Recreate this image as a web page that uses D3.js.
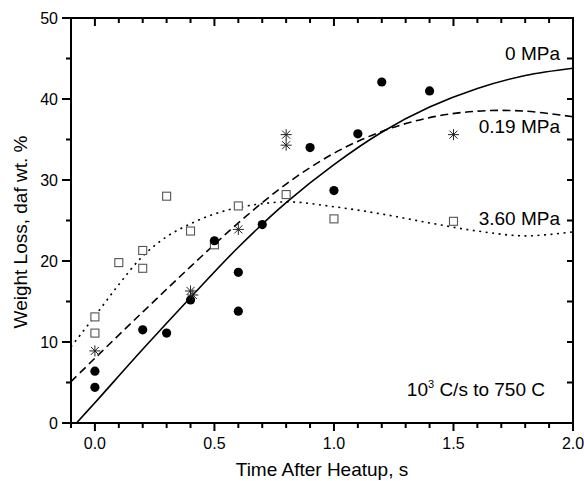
<!DOCTYPE html>
<html>
<head>
<meta charset="utf-8">
<script src="https://cdn.jsdelivr.net/npm/d3@7"></script>
<style>
  body { margin: 0; background: #fff; }
  text { font-family: "Liberation Sans", Arial, Helvetica, sans-serif; fill: #000; }
</style>
</head>
<body>
<svg id="chart"></svg>
<script>
var circleT = [0.0, 0.0, 0.2, 0.3, 0.4, 0.5, 0.6, 0.6, 0.7, 0.9, 1.0, 1.1, 1.2, 1.4]
var circleY = [4.4, 6.4, 11.5, 11.1, 15.2, 22.5, 18.6, 13.8, 24.5, 34.0, 28.7, 35.7, 42.1, 41.0]

var starT = [0.0, 0.4, 0.41, 0.6, 0.8, 0.8, 1.5]
var starY = [8.9, 16.3, 15.8, 23.9, 35.6, 34.3, 35.6]

var squareT = [0.0, 0.0, 0.1, 0.2, 0.2, 0.3, 0.4, 0.5, 0.6, 0.8, 1.0, 1.5]
var squareY = [13.1, 11.1, 19.8, 21.3, 19.1, 28.0, 23.7, 22.0, 26.8, 28.2, 25.2, 24.9]

// model curves
var curve0T = [-0.077, 0.0, 0.2, 0.4, 0.6, 0.8, 1.0, 1.2, 1.4, 1.6, 1.8, 2.0]
var curve0Y = [0, 2.5, 9.1, 15.5, 21.7, 27.2, 31.9, 35.9, 39.0, 41.3, 42.9, 43.8]

var curve019T = [-0.1, 0.0, 0.2, 0.4, 0.6, 0.8, 1.0, 1.2, 1.4, 1.6, 1.8, 2.0]
var curve019Y = [5.1, 8.0, 13.7, 19.3, 24.7, 29.5, 33.3, 36.0, 37.7, 38.5, 38.5, 37.8]

var curve360T = [-0.1, 0.0, 0.1, 0.2, 0.3, 0.4, 0.5, 0.6, 0.8, 1.0, 1.2, 1.4, 1.6, 1.8, 2.0]
var curve360Y = [9.4, 13.2, 17.1, 20.6, 23.0, 24.6, 25.8, 26.6, 27.3, 26.7, 25.8, 24.7, 23.7, 23.1, 23.6]

var xTicks = [0.0, 0.5, 1.0, 1.5, 2.0]
var yTicks = [0, 10, 20, 30, 40, 50]

var dimensions = {
    width: 584,
    height: 481,
    margin: { top: 18, bottom: 58, right: 11, left: 71 }
}

var svg = d3.select("#chart")
    .attr("width", dimensions.width)
    .attr("height", dimensions.height)

var x0 = dimensions.margin.left, x1 = dimensions.width - dimensions.margin.right
var y0 = dimensions.height - dimensions.margin.bottom, y1 = dimensions.margin.top

var xScale = d3.scaleLinear().domain([-0.1, 2.0]).range([x0, x1])
var yScale = d3.scaleLinear().domain([0, 50]).range([y0, y1])

var minorX = d3.range(-1, 21).map(d => d / 10)
var minorY = d3.range(0, 51, 5)

// clip for curves
svg.append("clipPath").attr("id", "clip")
    .append("rect").attr("x", x0).attr("y", y1).attr("width", x1 - x0).attr("height", y0 - y1)

var line = d3.line()
    .x(d => xScale(d[0]))
    .y(d => yScale(d[1]))
    .curve(d3.curveCatmullRom.alpha(0.5))

var curves = [
    { t: curve0T, y: curve0Y, dash: null },
    { t: curve019T, y: curve019Y, dash: "8,4.5" },
    { t: curve360T, y: curve360Y, dash: "2,4.5" }
]
curves.forEach(c => {
    svg.append("path")
        .datum(d3.zip(c.t, c.y))
        .attr("clip-path", "url(#clip)")
        .attr("fill", "none")
        .attr("stroke", "#000")
        .attr("stroke-width", 1.6)
        .attr("stroke-dasharray", c.dash)
        .attr("d", line)
})

// squares (3.60 MPa)
svg.append("g").selectAll("rect")
    .data(d3.zip(squareT, squareY))
    .enter().append("rect")
    .attr("x", d => xScale(d[0]) - 4)
    .attr("y", d => yScale(d[1]) - 4)
    .attr("width", 8).attr("height", 8)
    .attr("fill", "#fff")
    .attr("stroke", "#555")
    .attr("stroke-width", 1.1)

// circles (0 MPa)
svg.append("g").selectAll("circle")
    .data(d3.zip(circleT, circleY))
    .enter().append("circle")
    .attr("cx", d => xScale(d[0]))
    .attr("cy", d => yScale(d[1]))
    .attr("r", 4.6)
    .attr("fill", "#000")

// asterisks (0.19 MPa)
var star = "M0,-5.5V5.5M-5.5,0H5.5M-4,-4L4,4M-4,4L4,-4"
svg.append("g").selectAll("path")
    .data(d3.zip(starT, starY))
    .enter().append("path")
    .attr("transform", d => "translate(" + xScale(d[0]) + "," + yScale(d[1]) + ")")
    .attr("d", star)
    .attr("fill", "none")
    .attr("stroke", "#222")
    .attr("stroke-width", 1)

// axes
var fmt = d3.format(".1f")
var ax = svg.append("g").attr("stroke", "#000").attr("stroke-width", 2)

ax.append("rect")
    .attr("x", x0).attr("y", y1)
    .attr("width", x1 - x0).attr("height", y0 - y1)
    .attr("fill", "none")

// bottom: outward ticks, top: inward ticks
minorX.forEach(v => {
    var major = xTicks.some(t => Math.abs(t - v) < 1e-6)
    ax.append("line")
        .attr("x1", xScale(v)).attr("x2", xScale(v))
        .attr("y1", y0).attr("y2", y0 + (major ? 8 : 5))
    ax.append("line")
        .attr("x1", xScale(v)).attr("x2", xScale(v))
        .attr("y1", y1).attr("y2", y1 + (major ? 8 : 5))
})
// left: outward ticks, right: inward ticks
minorY.forEach(v => {
    var major = v % 10 === 0
    ax.append("line")
        .attr("x1", x0).attr("x2", x0 - (major ? 9 : 5))
        .attr("y1", yScale(v)).attr("y2", yScale(v))
    ax.append("line")
        .attr("x1", x1).attr("x2", x1 - 6)
        .attr("y1", yScale(v)).attr("y2", yScale(v))
})

svg.append("g").selectAll("text")
    .data(xTicks)
    .enter().append("text")
    .attr("x", d => xScale(d))
    .attr("y", y0 + 26)
    .attr("text-anchor", "middle")
    .style("font-size", "16px")
    .text(d => fmt(d))

svg.append("g").selectAll("text")
    .data(yTicks)
    .enter().append("text")
    .attr("x", x0 - 13)
    .attr("y", d => yScale(d) + 5.5)
    .attr("text-anchor", "end")
    .style("font-size", "16px")
    .text(d => d)

svg.append("text")
    .attr("x", (x0 + x1) / 2)
    .attr("y", 476)
    .attr("text-anchor", "middle")
    .style("font-size", "19px")
    .text("Time After Heatup, s")

svg.append("text")
    .attr("transform", "translate(27," + 232 + ") rotate(-90)")
    .attr("text-anchor", "middle")
    .style("font-size", "19px")
    .text("Weight Loss, daf wt. %")

// curve labels
var labels = [["0 MPa", 60], ["0.19 MPa", 133], ["3.60 MPa", 225]]
labels.forEach(l => {
    svg.append("text")
        .attr("x", 560)
        .attr("y", l[1])
        .attr("text-anchor", "end")
        .style("font-size", "19px")
        .text(l[0])
})

var note = svg.append("text")
    .attr("x", 545)
    .attr("y", 396)
    .attr("text-anchor", "end")
    .style("font-size", "19px")
note.append("tspan").text("10")
note.append("tspan").attr("dy", -8).style("font-size", "11px").text("3")
note.append("tspan").attr("dy", 8).text(" C/s to 750 C")
</script>
</body>
</html>
